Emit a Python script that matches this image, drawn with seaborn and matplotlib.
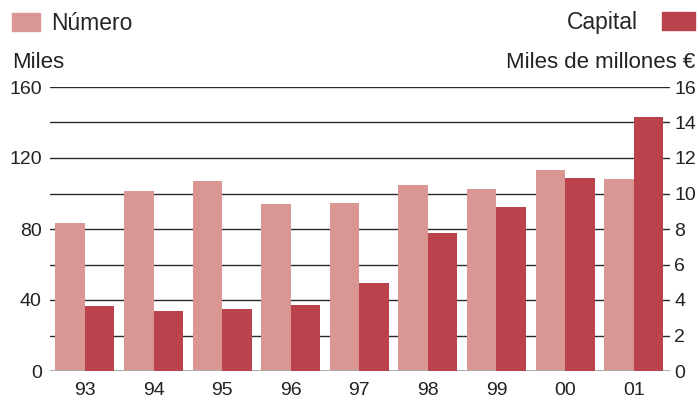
import pandas as pd
import matplotlib
matplotlib.use('Agg')
import matplotlib.pyplot as plt
from matplotlib.patches import Patch
import seaborn as sns

# datos
anios = ['93', '94', '95', '96', '97', '98', '99', '00', '01']
numero = [83.4, 101.4, 107.0, 94.0, 94.6, 104.8, 102.5, 113.2, 108.2]   # miles
capital = [3.66, 3.40, 3.49, 3.72, 4.96, 7.77, 9.24, 10.87, 14.3]      # miles de millones EUR

series = ['Número', 'Capital']
colores = {'Número': '#DA9692', 'Capital': '#BA424D'}

izq_ticks = [0, 40, 80, 120, 160]
der_ticks = [0, 2, 4, 6, 8, 10, 12, 14, 16]
grid_vals = [20, 40, 60, 80, 100, 120, 140, 160]

df_num = pd.DataFrame({'anio': anios, 'valor': numero, 'serie': 'Número'})
df_cap = pd.DataFrame({'anio': anios, 'valor': capital, 'serie': 'Capital'})

sns.set_style('white')
plt.rcParams['font.family'] = ['Liberation Sans', 'DejaVu Sans']

fig = plt.figure(figsize=(6.98, 4.0), dpi=100)
ax = fig.add_axes([50 / 698, 29 / 400, 620 / 698, 284 / 400])
ax2 = ax.twinx()

sns.barplot(data=df_num, x='anio', y='valor', hue='serie', hue_order=series,
            order=anios, palette=colores, width=0.86, dodge=True,
            saturation=1, legend=False, ax=ax, zorder=3, linewidth=0)
sns.barplot(data=df_cap, x='anio', y='valor', hue='serie', hue_order=series,
            order=anios, palette=colores, width=0.86, dodge=True,
            saturation=1, legend=False, ax=ax2, zorder=3, linewidth=0)

# lineas horizontales
for v in grid_vals:
    ax.axhline(v, color='#2a2a2a', lw=1.0, zorder=1)
ax.axhline(0, color='#aaaaaa', lw=1.4, zorder=4)

ax.set_ylim(0, 160)
ax2.set_ylim(0, 16)
ax.set_xlim(-0.51, 8.53)
ax.set_yticks(izq_ticks)
ax2.set_yticks(der_ticks)
ax.set_xlabel('')
ax.set_ylabel('')
ax2.set_xlabel('')
ax2.set_ylabel('')

ax.tick_params(axis='y', length=0, pad=6, labelsize=14, colors='#222222')
ax2.tick_params(axis='y', length=0, pad=3, labelsize=14, colors='#222222')
ax.tick_params(axis='x', length=0, pad=8, labelsize=14, colors='#222222')

for a in (ax, ax2):
    for s in a.spines.values():
        s.set_visible(False)

# leyendas
fig.legend(handles=[Patch(color=colores['Número'])], labels=['Número'],
           loc='upper left', bbox_to_anchor=(12 / 698, 1 - 12 / 400),
           frameon=False, fontsize=16.5, handlelength=1.22, handleheight=0.83,
           handletextpad=0.48, borderpad=0, borderaxespad=0)
fig.legend(handles=[Patch(color=colores['Capital'])], labels=['Capital'],
           loc='upper right', bbox_to_anchor=(695 / 698, 1 - 11 / 400),
           frameon=False, fontsize=16.5, handlelength=1.44, handleheight=0.83,
           handletextpad=1.05, borderpad=0, borderaxespad=0, markerfirst=False)

fig.text(12 / 698, 1 - 68 / 400, 'Miles', fontsize=16, va='baseline', color='#222222')
fig.text(695 / 698, 1 - 68 / 400, 'Miles de millones €', fontsize=16,
         va='baseline', ha='right', color='#222222')

fig.savefig('out.png', dpi=100)
